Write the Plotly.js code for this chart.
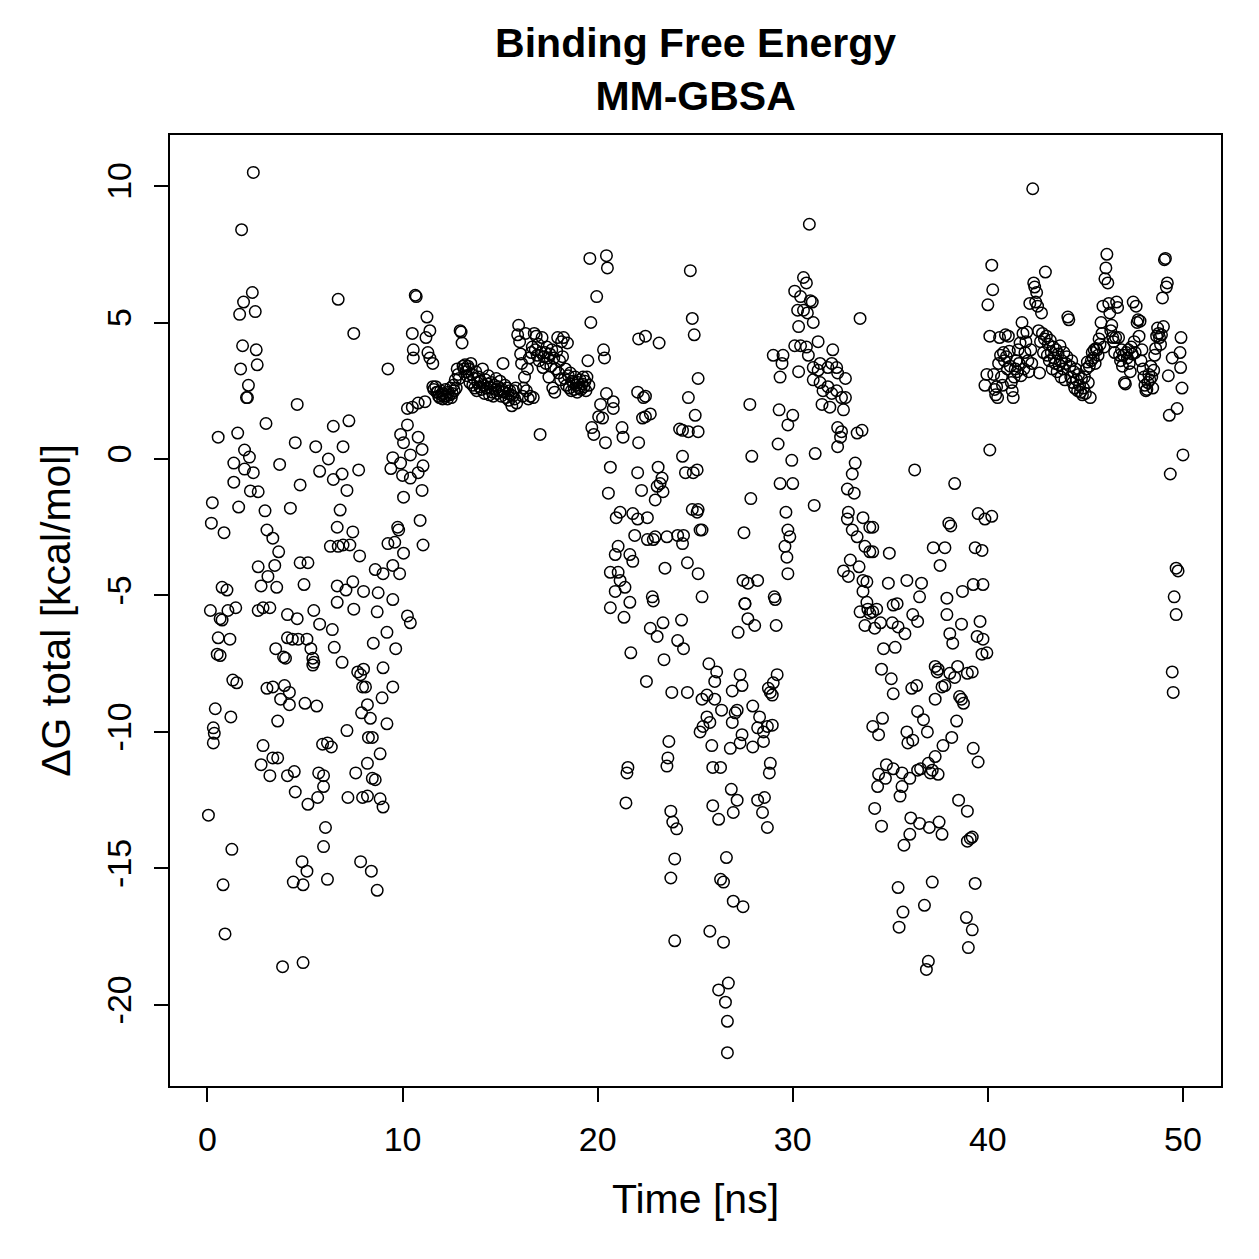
<!DOCTYPE html>
<html>
<head>
<meta charset="utf-8">
<script src="https://cdn.plot.ly/plotly-3.0.1.min.js"></script>
<style>
  html, body { margin: 0; padding: 0; background: #ffffff; }
  #chart { width: 1259px; height: 1259px; }
</style>
</head>
<body>
<div id="chart"></div>
<script>
// MM-GBSA binding free energy per frame: [time (ns), dG total (kcal/mol)]

// 0 - 8 ns
const frames0to8 = [
  [2.35,10.5],[1.75,8.4],[2.3,6.1],[1.85,5.75],[1.65,5.3],[2.45,5.4],[6.7,5.85],[7.5,4.6],[1.8,4.15],[2.5,4.0],
  [1.7,3.3],[2.55,3.45],[2.1,2.7],[2.0,2.25],[2.05,2.25],[4.6,2.0],[3.0,1.3],[6.45,1.2],[7.25,1.4],[0.55,0.8],
  [1.55,0.95],[1.9,0.33],[2.15,0.07],[1.35,-0.15],[1.9,-0.37],[2.35,-0.5],[1.35,-0.85],[2.2,-1.17],[2.6,-1.2],[0.25,-1.6],
  [1.6,-1.76],[0.2,-2.35],[0.85,-2.7],[4.5,0.6],[5.55,0.45],[6.2,0.0],[6.95,0.45],[5.75,-0.45],[6.45,-0.75],[6.9,-0.55],
  [7.15,-1.15],[7.75,-0.4],[3.7,-0.2],[4.75,-0.95],[4.25,-1.8],[6.8,-1.87],[6.65,-2.5],[7.45,-2.67],[6.3,-3.2],[6.7,-3.2],
  [6.95,-3.15],[7.3,-3.15],[7.8,-3.55],[2.95,-1.9],[3.05,-2.6],[3.35,-2.9],[3.65,-3.4],[3.45,-3.9],[2.6,-3.95],[3.1,-4.3],
  [2.75,-4.65],[3.55,-4.7],[4.75,-3.8],[5.15,-3.8],[4.95,-4.6],[6.65,-4.65],[7.45,-4.5],[7.1,-4.8],[8.0,-4.85],[0.75,-4.7],
  [1.0,-4.8],
  [0.15,-5.55],[0.65,-5.85],[0.75,-5.9],[1.05,-5.55],[1.45,-5.45],[2.6,-5.55],[2.85,-5.45],[3.2,-5.45],[4.1,-5.7],[4.6,-5.85],
  [5.45,-5.55],[5.75,-6.05],[6.4,-6.25],[7.5,-5.5],[6.65,-5.25],
  [0.55,-6.55],[1.15,-6.6],[0.5,-7.15],[0.65,-7.2],[3.5,-6.95],[3.9,-7.25],[4.0,-7.3],[4.1,-6.55],[4.35,-6.6],[4.65,-6.6],
  [5.1,-6.6],[5.3,-6.95],[5.4,-7.3],[5.45,-7.45],[5.4,-7.55],[6.5,-6.9],[6.9,-7.45],[7.7,-7.8],[7.85,-7.9],[7.95,-8.35],
  [1.3,-8.1],[1.5,-8.2],[3.05,-8.4],[3.35,-8.35],[3.95,-8.3],[4.2,-8.55],[3.75,-8.8],[4.2,-9.0],[5.0,-8.95],[5.6,-9.05],
  [3.6,-9.6],[0.4,-9.15],[1.2,-9.45],[0.3,-9.85],[0.35,-10.05],[0.3,-10.4],
  [2.85,-10.5],[3.35,-10.95],[3.6,-10.95],[2.75,-11.2],[3.2,-11.6],[4.1,-11.6],[4.45,-11.45],[4.5,-12.2],[5.15,-12.65],[5.65,-12.4],
  [5.7,-11.5],[5.95,-11.6],[5.95,-12.0],[5.9,-10.45],[6.15,-10.4],[6.35,-10.55],[7.15,-9.95],[7.6,-11.5],[7.2,-12.4],[7.9,-9.3],
  [7.95,-12.4],
  [0.05,-13.05],[1.25,-14.3],[0.8,-15.6],[0.9,-17.4],[3.85,-18.6],[4.9,-18.45],[6.05,-13.5],[5.95,-14.2],[4.85,-14.75],[5.1,-15.1],
  [4.4,-15.5],[4.9,-15.6],[6.15,-15.4],[7.85,-14.75]
];

// 8 - 11.6 ns
const frames8to12 = [
  [8.7,-5.6],[10.25,-5.75],[10.4,-6.0],[9.2,-6.35],[8.5,-6.75],[9.65,-6.95],[9.0,-7.65],[9.5,-8.35],[8.95,-8.75],[8.2,-9.0],
  [8.0,-7.7],[8.1,-8.35],[8.35,-9.5],[9.2,-9.7],[8.45,-10.2],[8.25,-10.2],[8.85,-10.8],[8.2,-11.15],[8.45,-11.7],[8.6,-11.75],
  [8.2,-12.35],[8.85,-12.45],[9.0,-12.75],[8.4,-15.1],[8.7,-15.8],
  [9.25,3.3],[10.25,1.85],[10.5,1.9],[10.8,2.05],[11.15,2.1],[10.25,1.25],[9.9,0.9],[10.8,0.8],[10.05,0.6],[11.0,0.35],
  [9.5,0.05],[9.9,-0.15],[10.4,0.15],[11.05,-0.25],[9.4,-0.35],[10.0,-0.6],[10.4,-0.7],[10.8,-0.5],[10.05,-1.4],[11.0,-1.15],
  [10.9,-2.25],[9.75,-2.5],[9.8,-2.6],[9.25,-3.1],[9.6,-3.05],[11.05,-3.15],[10.05,-3.45],[8.6,-4.05],[9.0,-4.2],[9.5,-3.9],
  [9.85,-4.2],[8.75,-4.9],[9.5,-5.15],
  [10.65,6.0],[10.7,5.95],[11.25,5.2],[11.4,4.7],[10.5,4.6],[11.2,4.45],[10.55,4.0],[11.3,3.9],[10.55,3.7],[11.4,3.7],
  [11.55,3.5]
];

// 11.5 - 19.6 ns
const frames12to20 = [
  [11.55,2.65],[11.6,2.55],[11.7,2.65],[11.75,2.45],
  [11.8,2.45],[11.85,2.3],[11.9,2.25],[11.95,2.5],[12.0,2.35],[12.05,2.2],[12.1,2.4],[12.15,2.3],[12.2,2.55],[12.25,2.3],
  [12.3,2.2],[12.35,2.45],[12.4,2.35],[12.45,2.6],[12.5,2.25],[12.55,2.4],[12.6,2.7],[12.65,2.5],[12.7,2.9],[12.75,2.6],
  [12.8,3.3],[12.85,3.1],[12.9,2.95],[12.95,4.7],[13.0,4.65],[13.05,4.25],[13.1,3.4],[13.15,3.3],[13.2,3.45],[13.25,3.2],
  [13.3,3.05],[13.35,3.4],[13.4,3.3],[13.45,2.8],[13.5,3.5],[13.55,3.1],[13.6,2.7],[13.65,2.95],[13.7,2.6],[13.75,3.2],
  [13.8,2.5],[13.85,2.8],[13.9,3.0],[13.95,2.65],[14.0,2.85],[14.05,2.55],[14.1,3.3],[14.15,2.7],[14.2,2.4],[14.25,2.9],
  [14.3,2.6],[14.35,2.75],[14.4,3.05],[14.45,2.35],[14.5,2.6],[14.55,2.8],[14.6,2.45],[14.65,2.3],[14.7,2.7],[14.75,2.55],
  [14.8,2.95],[14.85,2.4],[14.9,2.65],[14.95,2.5],[15.0,2.85],[15.05,2.3],[15.1,2.55],[15.15,3.5],[15.2,2.45],[15.25,2.7],
  [15.3,2.25],[15.35,2.6],[15.4,2.4],[15.45,2.15],[15.5,2.5],[15.55,2.35],[15.6,1.95],[15.65,2.3],[15.7,2.5],[15.75,2.2],
  [15.8,2.6],[15.85,2.05],[15.9,4.55],[15.95,4.9],[16.0,4.3],[16.05,3.85],[16.1,3.5],[16.15,2.3],[16.2,2.6],[16.25,3.0],
  [16.3,4.6],[16.35,2.5],[16.4,3.3],[16.45,2.2],[16.5,3.7],[16.55,2.3],[16.6,3.9],[16.65,4.1],[16.7,2.25],[16.75,4.6],
  [16.8,4.0],[16.85,4.5],[16.9,3.8],[16.95,4.2],[17.0,3.6],[17.05,0.9],[17.1,3.9],[17.15,4.45],[17.2,3.35],[17.25,3.75],
  [17.3,3.9],[17.35,3.5],[17.4,4.1],[17.45,3.7],[17.5,3.0],[17.55,3.85],[17.6,3.4],[17.65,4.0],[17.7,2.6],[17.75,3.7],
  [17.8,2.45],[17.85,3.3],[17.9,3.95],[17.95,4.45],[18.0,3.15],[18.05,3.6],[18.1,2.9],[18.15,4.3],[18.2,3.75],[18.25,4.45],
  [18.3,2.95],[18.35,3.3],[18.4,2.7],[18.45,4.25],[18.5,3.05],[18.55,2.6],[18.6,3.15],[18.65,2.5],[18.7,2.85],[18.75,2.8],
  [18.8,2.55],[18.85,3.0],[18.9,2.7],[18.95,2.45],[19.0,2.8],[19.05,2.6],[19.1,2.9],[19.15,2.55],[19.2,2.75],[19.25,3.0],
  [19.3,2.65],[19.35,2.85],[19.4,2.5],[19.45,3.0],[19.5,3.6],[19.55,2.7]
];

// 19.5 - 25.5 ns
const frames20to25 = [
  [19.6,7.35],[20.45,7.45],[20.5,7.0],[19.95,5.95],[19.65,5.0],[20.3,4.0],[20.35,3.7],
  [20.45,2.4],[20.8,2.1],[20.8,1.85],[20.15,2.0],[20.05,1.55],[20.25,1.5],[19.7,1.15],[19.8,0.9],[20.4,0.6],
  [21.25,1.15],[21.3,0.8],[22.1,0.6],[20.65,-0.3],[20.55,-1.25],[22.05,-0.5],[22.25,-1.15],
  [23.1,-0.3],[23.3,-0.7],[23.2,-0.9],[23.35,-1.2],[22.95,-1.5],[23.05,-1.0],
  [22.1,4.4],[22.45,4.5],[23.15,4.25],[22.05,2.45],[22.35,2.25],[22.45,2.3],[22.3,1.5],[22.45,1.55],[22.7,1.65],
  [24.35,0.1],[24.5,-0.5],[24.9,-0.5],[25.1,-0.4],[24.35,1.05],[24.65,1.0],[25.15,1.0],[24.2,1.1],
  [24.65,2.25],[25.0,1.6],[25.15,2.95],[24.85,-1.85],[25.15,-1.85],[25.25,-2.6],
  [20.95,-2.15],[21.15,-1.95],[21.8,-2.0],[22.05,-2.2],[22.55,-2.15],[21.9,-2.8],[22.55,-2.95],[22.85,-2.95],[22.95,-2.85],[23.55,-2.85],
  [24.1,-2.8],[24.4,-2.8],[24.35,-3.1],[24.6,-3.8],[23.45,-4.0],
  [21.05,-3.2],[20.9,-3.5],[21.65,-3.5],[21.8,-3.75],[20.65,-4.15],[21.05,-4.15],[21.15,-4.45],[21.4,-4.7],[20.9,-4.85],[21.65,-5.25],
  [20.65,-5.45],[22.8,-5.05],[22.85,-5.2],[25.1,-1.95],[25.35,-2.6],[25.15,-4.2],[25.35,-5.05],
  [24.75,6.9],[24.85,5.15],[24.95,4.55],
  [21.35,-5.8],[22.7,-6.2],[23.05,-6.5],[23.35,-6.0],[24.3,-5.9],[24.1,-6.65],[24.4,-6.95],[21.7,-7.1],[23.4,-7.35],[22.5,-8.15],
  [23.8,-8.55],[24.6,-8.55],[23.65,-10.35],[23.6,-10.95],[23.55,-11.25],[21.55,-11.3],[21.5,-11.5],[21.45,-12.6],[23.75,-12.9],[23.85,-13.3],
  [24.05,-13.55],[23.95,-14.65],[23.75,-15.35],[23.95,-17.65],[25.35,-8.8],[25.4,-9.8],[25.25,-10.0]
];

// 25.5 - 34 ns
const frames25to34 = [
  [27.55,-5.3],[29.1,-5.15],[27.7,-5.85],[28.05,-6.1],[27.2,-6.35],[29.15,-6.1],
  [25.7,-7.5],[26.1,-7.8],[26.0,-8.15],[25.6,-8.65],[26.0,-8.8],[26.35,-9.2],[25.6,-9.45],[25.75,-9.65],[26.9,-8.5],[27.3,-7.9],
  [27.4,-8.3],[27.15,-9.2],[27.05,-9.3],[26.9,-9.65],[27.95,-9.05],[28.3,-9.45],[28.2,-9.85],[28.7,-9.8],[28.95,-9.75],[28.5,-10.0],
  [27.4,-10.1],[27.3,-10.4],[26.8,-10.6],[27.95,-10.55],[28.5,-10.35],[25.85,-10.5],[25.9,-11.3],[26.3,-11.3],[28.85,-11.15],[28.8,-11.5],
  [29.2,-7.9],[29.0,-8.2],[28.75,-8.4],[28.85,-8.55],[28.95,-8.65],
  [26.85,-12.1],[27.15,-12.5],[26.95,-12.95],[25.9,-12.7],[26.2,-13.2],[28.2,-12.5],[28.55,-12.4],[28.45,-12.95],[28.7,-13.5],
  [26.6,-14.6],[26.3,-15.4],[26.45,-15.5],[26.95,-16.2],[27.45,-16.4],[25.75,-17.3],[26.45,-17.7],
  [26.7,-19.2],[26.2,-19.45],[26.55,-19.9],[26.65,-20.6],[26.65,-21.75],
  [30.85,8.6],
  [30.55,6.65],[30.7,6.45],[30.1,6.15],[30.4,5.95],[30.9,5.8],[31.0,5.75],[30.25,5.45],[30.55,5.45],[30.75,5.35],[30.3,4.85],
  [31.05,5.0],
  [31.3,4.3],[32.05,4.0],[30.1,4.15],[30.4,4.15],[30.7,4.1],[30.8,3.8],[29.0,3.8],[29.5,3.8],[29.45,3.5],[29.35,3.0],
  [30.3,3.2],[31.05,3.35],[31.3,3.25],[31.4,3.5],[31.8,3.35],[32.0,3.5],[32.25,3.35],[32.3,3.15],[32.7,2.95],[31.05,2.9],
  [31.4,2.8],[31.55,2.5],[31.8,2.65],[32.0,2.4],[32.25,2.5],[32.5,2.25],[31.5,2.0],[31.9,1.9],[32.6,1.8],[32.7,2.25],
  [27.8,2.0],[29.3,1.8],[30.0,1.6],[29.75,1.25],
  [32.3,1.15],[32.5,1.0],[32.45,0.8],[33.3,0.95],[33.55,1.05],[32.3,0.45],
  [27.9,0.1],[29.25,0.55],[29.95,-0.05],[31.15,0.2],
  [29.35,-0.9],[30.0,-0.9],[27.85,-1.45],[29.65,-1.95],[31.1,-1.7],
  [33.2,-0.15],[33.05,-0.55],[32.8,-1.1],[33.15,-1.25],[33.6,-2.15],[33.95,-2.5],[32.85,-1.95],[32.8,-2.2],[33.05,-2.6],[33.3,-2.85],
  [33.7,-3.2],[33.95,-3.4],[32.95,-3.7],[32.6,-4.1],[32.85,-4.3],[33.4,-3.95],[33.6,-4.45],[33.8,-4.5],[33.6,-4.85],[33.8,-5.25],
  [27.5,-2.7],[29.75,-2.6],[29.85,-2.85],[29.6,-3.2],[29.7,-3.6],[29.75,-4.2],[29.05,-5.05],[27.45,-4.45],[27.7,-4.55],[28.2,-4.45],
  [27.55,-5.3],[33.45,5.15],
  [33.45,-5.6],[33.7,-6.1],[33.85,-5.5],[33.95,-5.65]
];

// 34 - 40 ns
const frames34to40 = [
  [36.25,-0.4],[38.3,-0.9],[39.5,-2.0],[39.85,-2.2],[40.2,-2.1],[38.0,-2.35],[38.1,-2.45],[37.2,-3.25],[37.8,-3.25],[37.55,-3.9],
  [39.35,-3.25],[39.7,-3.35],[34.95,-3.45],[34.1,-2.5],[34.1,-3.4],[34.9,-4.55],[35.85,-4.45],[36.6,-4.55],[36.5,-5.05],[37.9,-5.1],
  [38.7,-4.85],[39.25,-4.6],[39.75,-4.6],
  [34.1,-5.6],[34.3,-5.5],[35.15,-5.35],[35.35,-5.3],
  [34.2,-6.2],[34.5,-6.0],[35.1,-6.0],[35.4,-6.15],[35.75,-6.4],[36.15,-5.7],[36.4,-5.95],[37.9,-5.7],[38.05,-6.4],[38.2,-6.75],
  [38.65,-6.05],[39.6,-5.95],[39.45,-6.5],[39.75,-6.6],[39.7,-7.15],[39.95,-7.1],
  [34.65,-6.95],[35.25,-6.9],[34.55,-7.7],[35.05,-8.05],[35.15,-8.6],
  [36.1,-8.4],[36.35,-8.3],[37.3,-7.6],[37.45,-7.7],[37.4,-7.8],[37.65,-8.35],[37.8,-8.3],[37.3,-8.8],[38.05,-7.85],[38.3,-8.0],
  [38.45,-7.6],[38.55,-8.7],[38.65,-8.8],[38.75,-8.95],[38.95,-7.85],[39.2,-7.8],[38.4,-9.6],[38.15,-10.2],[37.7,-10.5],
  [34.6,-9.5],[34.1,-9.8],[34.4,-10.1],
  [36.4,-9.25],[36.7,-9.55],[36.9,-10.0],[35.85,-10.0],[35.9,-10.4],[36.15,-10.3],
  [37.3,-10.9],[36.95,-11.15],[36.55,-11.35],[36.4,-11.4],[36.0,-11.7],[35.6,-11.5],[35.15,-11.35],[34.8,-11.2],[34.4,-11.55],[34.75,-11.7],
  [34.35,-12.0],[37.15,-11.4],[37.05,-11.5],[37.45,-11.55],[39.25,-10.6],[39.5,-11.1],
  [35.6,-12.0],[35.5,-12.35],[34.2,-12.8],[34.55,-13.45],
  [36.05,-13.15],[36.5,-13.35],[37.0,-13.5],[37.5,-13.3],[37.65,-13.75],[36.0,-13.75],[35.7,-14.15],
  [38.5,-12.5],[38.95,-12.9],[38.95,-14.0],[39.1,-13.9],[39.2,-13.85],
  [35.4,-15.7],[37.15,-15.5],[39.35,-15.55],[36.75,-16.35],[35.65,-16.6],[35.45,-17.15],
  [38.9,-16.8],[39.2,-17.25],[39.0,-17.9],[36.95,-18.4],[36.85,-18.7]
];

// 39.8 - 50 ns
const frames40to50 = [
  [39.85,2.7],[39.95,3.1],[40.0,5.65],[40.1,0.33],[40.2,7.1],[40.25,6.2],[40.1,4.5],[40.9,4.55],[40.5,2.25],[41.3,2.25],
  [40.3,3.1],[40.35,2.55],[40.4,2.35],[40.45,2.65],[40.55,3.5],[40.6,4.45],[40.65,3.8],[40.7,3.0],[40.75,2.7],[40.8,3.9],
  [40.85,3.6],[40.95,3.75],[41.0,3.3],[41.05,4.5],[41.1,3.95],[41.15,3.4],[41.2,2.8],[41.25,2.5],[41.35,3.0],[41.4,3.3],
  [41.45,3.6],[41.5,3.2],[41.55,4.0],[41.6,3.5],[41.65,4.25],[41.7,3.05],[41.75,5.0],[41.8,4.6],[41.85,3.3],[41.9,3.9],
  [41.95,4.3],[42.0,4.65],[42.05,3.6],[42.1,3.2],[42.15,5.7],[42.2,4.0],[42.25,3.5],[42.3,9.9],[42.35,6.45],[42.4,6.3],
  [42.45,5.75],[42.5,6.1],[42.55,5.6],[42.6,4.7],[42.65,3.15],[42.7,4.3],[42.75,5.35],[42.8,4.6],[42.85,3.9],[42.9,4.4],
  [42.95,6.85],[43.0,4.5],[43.05,3.8],[43.1,4.2],[43.15,3.6],[43.2,4.35],[43.25,3.9],[43.3,3.3],[43.35,4.1],[43.4,3.7],
  [43.45,3.5],[43.5,4.0],[43.55,3.2],[43.6,3.85],[43.65,3.45],[43.7,4.15],[43.75,3.0],[43.8,3.6],[43.85,3.3],[43.9,3.9],
  [43.95,2.9],[44.0,3.5],[44.05,3.75],[44.1,5.2],[44.15,5.1],[44.2,3.4],[44.25,3.0],[44.3,3.6],[44.35,2.8],[44.4,3.2],
  [44.45,2.6],[44.5,3.3],[44.55,2.9],[44.6,2.5],[44.65,3.1],[44.7,2.7],[44.75,2.45],[44.8,2.95],[44.85,2.35],[44.9,2.6],
  [44.95,3.0],[45.0,2.4],[45.05,3.3],[45.1,3.55],[45.15,2.8],[45.2,3.4],[45.25,2.25],[45.3,3.6],[45.35,3.9],[45.4,3.7],
  [45.45,4.0],[45.5,3.5],[45.55,4.05],[45.6,4.0],[45.65,3.8],[45.7,4.4],[45.75,4.2],[45.8,5.0],[45.85,4.6],[45.9,5.6],
  [45.95,4.1],[46.0,6.6],[46.05,7.0],[46.1,7.5],[46.15,6.45],[46.2,5.7],[46.25,5.35],[46.3,4.7],[46.35,4.9],[46.4,4.45],
  [46.45,4.3],[46.5,3.9],[46.55,4.45],[46.6,5.75],[46.65,5.55],[46.7,4.45],[46.75,3.8],[46.8,3.6],[46.85,4.0],[46.9,3.4],
  [46.95,3.8],[47.0,2.8],[47.05,2.75],[47.1,3.9],[47.15,3.7],[47.2,4.0],[47.25,3.5],[47.3,3.2],[47.35,4.1],[47.4,3.85],
  [47.45,5.75],[47.5,4.3],[47.55,3.9],[47.6,5.6],[47.65,5.0],[47.7,5.1],[47.75,4.5],[47.8,5.05],[47.85,3.6],[47.9,4.0],
  [47.95,3.3],[48.0,3.0],[48.05,2.7],[48.1,2.5],[48.15,2.55],[48.2,2.8],[48.25,3.1],[48.3,2.9],[48.35,3.4],[48.4,3.0],
  [48.45,2.6],[48.5,3.25],[48.55,3.8],[48.6,4.05],[48.65,4.5],[48.7,4.8],[48.75,4.6],[48.8,4.45],[48.85,4.2],[48.9,4.55],
  [48.95,5.9],[49.0,4.85],[49.05,7.3],[49.1,7.35],[49.15,6.3],[49.2,6.45],[49.25,3.05],[49.3,1.6],[49.35,-0.55],[49.45,3.7],
  [49.45,-7.8],[49.5,-8.55],[49.55,-5.05],[49.65,-4.0],[49.65,-5.7],[49.7,1.85],[49.75,-4.1],[49.85,3.9],[49.88,3.35],[49.9,4.45],
  [49.95,2.6],[50.0,0.15]
];

const xTicks = [0, 10, 20, 30, 40, 50];
const yTicks = [-20, -15, -10, -5, 0, 5, 10];

const allFrames = [].concat(frames0to8, frames8to12, frames12to20, frames20to25,
                            frames25to34, frames34to40, frames40to50);

const trace = {
  type: 'scatter',
  mode: 'markers',
  x: allFrames.map(p => p[0]),
  y: allFrames.map(p => p[1]),
  marker: {
    symbol: 'circle-open',
    size: 11.5,
    color: '#000000',
    line: { width: 1.5, color: '#000000' }
  },
  hoverinfo: 'x+y',
  showlegend: false
};

const baseFont = 'Liberation Sans, Arial, Helvetica, sans-serif';

const axisCommon = {
  showline: true,
  mirror: true,
  linecolor: '#000000',
  linewidth: 2,
  ticks: 'outside',
  ticklen: 14,
  tickwidth: 2,
  tickcolor: '#000000',
  showgrid: false,
  zeroline: false,
  tickfont: { family: baseFont, size: 34, color: '#000000' }
};

const layout = {
  width: 1259,
  height: 1259,
  paper_bgcolor: '#ffffff',
  plot_bgcolor: '#ffffff',
  margin: { l: 170, r: 38, t: 135, b: 173, pad: 0 },
  font: { family: baseFont, color: '#000000', size: 34 },
  title: {
    text: 'Binding Free Energy<br>MM-GBSA',
    font: { family: baseFont, size: 41, weight: 'bold', color: '#000000' },
    x: 0.5525,
    xanchor: 'center',
    xref: 'container',
    y: 1 - 57 / 1259,
    yref: 'container',
    yanchor: 'top'
  },
  xaxis: Object.assign({}, axisCommon, {
    range: [-1.92, 51.95],
    tickmode: 'array',
    tickvals: xTicks,
    ticktext: xTicks.map(String),
    ticklabelstandoff: 8,
    title: { text: 'Time [ns]', font: { family: baseFont, size: 41, color: '#000000' }, standoff: 28 }
  }),
  yaxis: Object.assign({}, axisCommon, {
    range: [-22.97, 11.87],
    tickmode: 'array',
    tickvals: yTicks,
    ticktext: yTicks.map(String),
    tickangle: -90,
    ticklabelstandoff: 9,
    title: { text: 'ΔG total [kcal/mol]', font: { family: baseFont, size: 41, color: '#000000' }, standoff: 17 }
  })
};

Plotly.newPlot('chart', [trace], layout, { displayModeBar: false, staticPlot: true });
</script>
</body>
</html>
